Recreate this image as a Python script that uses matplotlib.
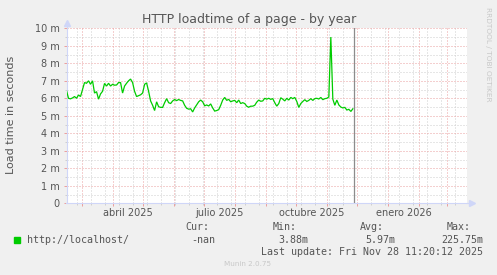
import matplotlib
matplotlib.use("Agg")
import matplotlib.pyplot as plt
import matplotlib.dates as mdates
import matplotlib.transforms as mtransforms
import numpy as np
import pandas as pd

# ---------------- data ----------------
start_date = "2025-02-14"
step = "2D"
# load time in milliseconds (axis shows "m" = milli-seconds)
load_ms = [
    6.44, 6.0, 5.97, 6.02, 6.1, 6.0, 6.19, 6.1, 6.5, 6.9,
    6.86, 7.0, 6.8, 7.0, 6.3, 6.38, 5.95, 6.25, 6.4, 6.85,
    6.7, 6.86, 6.7, 6.8, 6.75, 6.76, 6.9, 6.9, 6.3, 6.7,
    6.86, 7.0, 7.1, 6.9, 6.4, 6.1, 6.15, 6.2, 6.3, 6.8,
    6.88, 6.4, 5.85, 5.6, 5.3, 5.8, 5.52, 5.48, 5.48, 5.75,
    5.98, 5.75, 5.7, 5.85, 5.93, 5.87, 5.93, 5.88, 5.85, 5.6,
    5.43, 5.38, 5.4, 5.22, 5.45, 5.62, 5.8, 5.9, 5.8, 5.57,
    5.62, 5.56, 5.68, 5.45, 5.27, 5.3, 5.35, 5.6, 5.9, 6.05,
    5.88, 5.94, 5.8, 5.85, 5.88, 5.75, 5.9, 5.7, 5.75, 5.7,
    5.55, 5.49, 5.55, 5.55, 5.6, 5.78, 5.9, 5.83, 5.85, 6.0,
    5.95, 6.0, 5.94, 5.98, 5.75, 5.55, 5.7, 6.03, 5.95, 5.85,
    6.0, 5.9, 6.05, 5.98, 6.05, 5.82, 5.48, 5.7, 5.82, 5.92,
    5.82, 5.88, 5.98, 5.88, 5.98, 6.0, 5.96, 6.05, 5.92, 5.98,
    6.0, 6.08, 9.5, 5.95, 5.6, 5.9, 5.62, 5.5, 5.45, 5.48,
    5.33, 5.37, 5.25, 5.4,
]
dates = pd.date_range(start_date, periods=len(load_ms), freq=step)

x_start = "2025-02-14"
x_end = "2026-03-21"
now_time = "2025-11-28 11:20:12"
minor_start = "2025-02-24"

ytick_vals = [0, 1, 2, 3, 4, 5, 6, 7, 8, 9, 10]
ytick_labels = ["0", "1 m", "2 m", "3 m", "4 m", "5 m", "6 m", "7 m", "8 m", "9 m", "10 m"]

month_label_dates = ["2025-04-01", "2025-07-01", "2025-10-01", "2026-01-01"]
month_labels = ["abril 2025", "julio 2025", "octubre 2025", "enero 2026"]

title = "HTTP loadtime of a page - by year"
ylabel = "Load time in seconds"
series_name = "http://localhost/"
cur_val, min_val, avg_val, max_val = "-nan", "3.88m", "5.97m", "225.75m"
last_update = "Last update: Fri Nov 28 11:20:12 2025"

# ---------------- style ----------------
W, H = 497, 275
BG = "#F0F0F0"
GREEN = "#00CC00"
MGRID = "#EBA0A0"
GRID = "#CFCFCF"
AXIS = "#CFD6F8"
FONT = "#555555"

fig = plt.figure(figsize=(W / 100, H / 100), dpi=100, facecolor=BG)
L, R, T, B = 66.5, 467.0, 28.3, 203.3
ax = fig.add_axes([L / W, 1 - B / H, (R - L) / W, (B - T) / H])
ax.set_facecolor("white")

x0, x1 = pd.Timestamp(x_start), pd.Timestamp(x_end)
ax.set_xlim(x0, x1)
ax.set_ylim(0, 10)

# y grid
ax.set_yticks(ytick_vals)
ax.set_yticklabels(ytick_labels)
ax.set_yticks(np.arange(0.5, 10, 1.0), minor=True)
# x grid
ax.xaxis.set_major_locator(mdates.MonthLocator())
ax.xaxis.set_minor_locator(mdates.DayLocator(interval=1000))
minor_x = pd.date_range(minor_start, x_end, freq="14D")
ax.set_xticks(mdates.date2num(minor_x), minor=True)
ax.xaxis.set_major_formatter(plt.NullFormatter())

dash = dict(linestyle=(0, (1, 2)), linewidth=0.72)
ax.grid(True, which="minor", color=GRID, **dash)
ax.grid(True, which="major", color=MGRID, **dash)
ax.set_axisbelow(True)

for s in ["top", "right"]:
    ax.spines[s].set_visible(False)
for s in ["left", "bottom"]:
    ax.spines[s].set_color(AXIS)
    ax.spines[s].set_linewidth(0.8)

ax.tick_params(axis="y", which="major", length=2.2, width=0.72, color=MGRID,
               pad=2.6, labelsize=7, labelcolor=FONT)
ax.tick_params(axis="y", which="minor", length=1.4, width=0.72, color=GRID)
ax.tick_params(axis="x", which="major", length=2.2, width=0.72, color=MGRID)
ax.tick_params(axis="x", which="minor", length=1.4, width=0.72, color=GRID)

# arrows on axes
ax.plot([0, 0], [1, 1.03], transform=ax.transAxes, color=AXIS, lw=0.8, clip_on=False)
ax.plot([0], [1.03], marker="^", ms=4, color=AXIS, transform=ax.transAxes, clip_on=False)
ax.plot([1, 1.012], [0, 0], transform=ax.transAxes, color=AXIS, lw=0.8, clip_on=False)
ax.plot([1.012], [0], marker=">", ms=4, color=AXIS, transform=ax.transAxes, clip_on=False)

# data
ax.plot(dates, load_ms, color=GREEN, lw=0.9, solid_joinstyle="miter", zorder=3)
ax.axvline(pd.Timestamp(now_time), color="#8C8C8C", lw=0.9, zorder=4)

# month labels
trans = mtransforms.blended_transform_factory(ax.transData, ax.transAxes)
for d, lab in zip(month_label_dates, month_labels):
    xd = pd.Timestamp(d) + pd.Timedelta(days=15.5)
    ax.text(xd, -0.055, lab, transform=trans, ha="center", va="center",
            fontsize=7, color=FONT)

# texts
def ftext(x, y, s, **kw):
    fig.text(x / W, 1 - y / H, s, **kw)

ftext(249, 19, title, ha="center", va="center", fontsize=9, color=FONT)
ftext(11, 115, ylabel, ha="center", va="center", rotation=90, fontsize=8, color=FONT)
ftext(488, 54, "RRDTOOL / TOBI OETIKER", ha="center", va="center", rotation=270,
      fontsize=5.3, color="#C8C8C8")
ftext(248, 264, "Munin 2.0.75", ha="center", va="center", fontsize=5.2, color="#C8C8C8")

mono = dict(family="DejaVu Sans Mono", fontsize=7.2, color=FONT, va="center")
fig.patches.append(plt.Rectangle((14 / W, 1 - 243 / H), 6 / W, 6 / H,
                                 transform=fig.transFigure, color=GREEN))
ftext(26.7, 240, series_name, ha="left", **mono)
ftext(185.7, 227.3, "Cur:", ha="left", **mono)
ftext(215, 240, cur_val, ha="right", **mono)
ftext(272.7, 227.3, "Min:", ha="left", **mono)
ftext(308.3, 240, min_val, ha="right", **mono)
ftext(360, 227.3, "Avg:", ha="left", **mono)
ftext(395.7, 240, avg_val, ha="right", **mono)
ftext(447, 227.3, "Max:", ha="left", **mono)
ftext(483, 240, max_val, ha="right", **mono)
ftext(261, 251.7, last_update, ha="left", **mono)

fig.savefig("out.png", dpi=100, facecolor=BG)
